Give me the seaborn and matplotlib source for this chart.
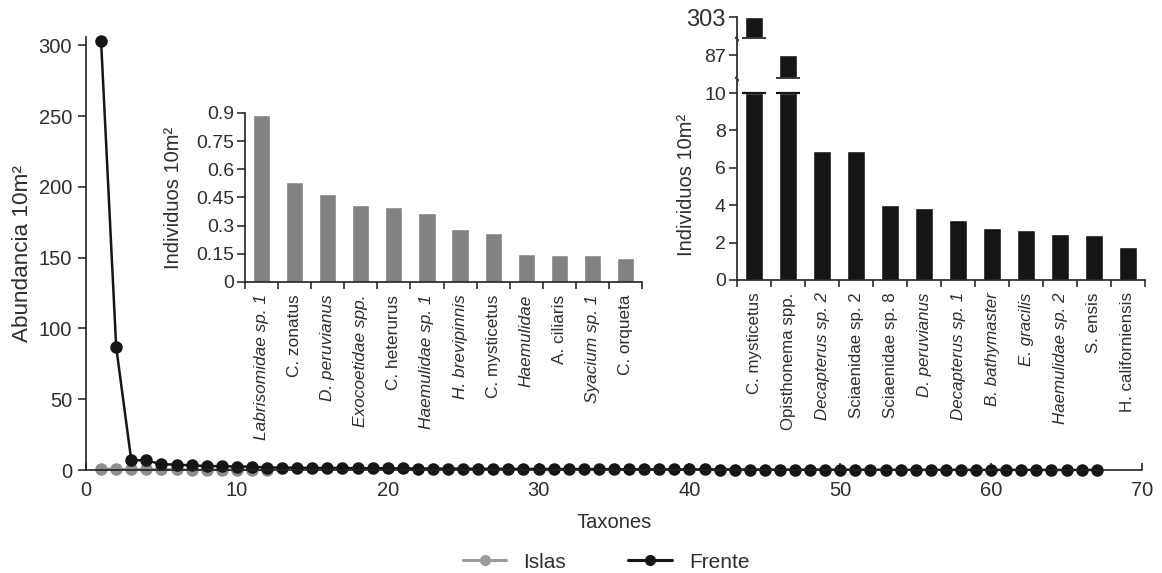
import numpy as np
import pandas as pd
import matplotlib
matplotlib.use("Agg")
import matplotlib.pyplot as plt
from matplotlib.lines import Line2D
import seaborn as sns

# ---- data -------------------------------------------------------------
islas_taxa = ["Labrisomidae sp. 1", "C. zonatus", "D. peruvianus", "Exocoetidae spp.",
              "C. heterurus", "Haemulidae sp. 1", "H. brevipinnis", "C. mysticetus",
              "Haemulidae", "A. ciliaris", "Syacium sp. 1", "C. orqueta"]
islas_values = [0.89, 0.53, 0.47, 0.41, 0.40, 0.37, 0.28, 0.26, 0.15, 0.145, 0.145, 0.13]
islas_italic = [True, False, True, True, False, True, True, False, True, False, True, False]

frente_taxa = ["C. mysticetus", "Opisthonema spp.", "Decapterus sp. 2", "Sciaenidae sp. 2",
               "Sciaenidae sp. 8", "D. peruvianus", "Decapterus sp. 1", "B. bathymaster",
               "E. gracilis", "Haemulidae sp. 2", "S. ensis", "H. californiensis"]
frente_values = [303, 87, 6.9, 6.9, 4.0, 3.85, 3.2, 2.8, 2.7, 2.45, 2.4, 1.75]
frente_italic = [False, False, True, False, False, True, True, True, True, True, False, False]

# remaining (rare) taxa of the Frente rank-abundance curve
frente_tail = [1.7, 1.6, 1.5, 1.45, 1.4, 1.3, 1.25, 1.2, 1.1, 1.05,
               1.0, 0.95, 0.9, 0.9, 0.85, 0.8, 0.75, 0.7, 0.7, 0.65,
               0.6, 0.6, 0.55, 0.5, 0.5, 0.45, 0.45, 0.4, 0.4, 0.35,
               0.35, 0.3, 0.3, 0.3, 0.25, 0.25, 0.25, 0.2, 0.2, 0.2,
               0.2, 0.15, 0.15, 0.15, 0.15, 0.1, 0.1, 0.1, 0.1, 0.1,
               0.1, 0.05, 0.05, 0.05, 0.05]

site_names = ["Islas", "Frente"]
x_ticks = [0, 10, 20, 30, 40, 50, 60, 70]
y_ticks = [0, 50, 100, 150, 200, 250, 300]
islas_yticks = [0, 0.15, 0.3, 0.45, 0.6, 0.75, 0.9]
frente_yticks_low = [0, 2, 4, 6, 8, 10]

# ---- style -------------------------------------------------------------
sns.set_theme(style="white")
plt.rcParams["font.family"] = ["Liberation Sans", "DejaVu Sans"]
TXT = "#2e2e2e"
GRAY_BAR = "#828282"
GRAY_PT = "#8e8e8e"
BLACK = "#151515"
plt.rcParams.update({
    "text.color": TXT, "axes.labelcolor": TXT,
    "xtick.color": TXT, "ytick.color": TXT,
    "axes.edgecolor": "#222222", "axes.linewidth": 1.2,
})

W, H = 1162, 573
fig = plt.figure(figsize=(W / 100, H / 100), dpi=100)


def rect(l, t, r, b):
    return [l / W, 1 - b / H, (r - l) / W, (b - t) / H]


# ---- main rank-abundance plot ----------------------------------------
islas_abund = islas_values
frente_abund = frente_values + frente_tail
df_curve = pd.concat([
    pd.DataFrame({"Taxones": np.arange(1, len(islas_abund) + 1),
                  "Abundancia": islas_abund, "Sitio": site_names[0]}),
    pd.DataFrame({"Taxones": np.arange(1, len(frente_abund) + 1),
                  "Abundancia": frente_abund, "Sitio": site_names[1]}),
], ignore_index=True)

ax = fig.add_axes(rect(86, 37, 1142, 470))
sns.lineplot(data=df_curve, x="Taxones", y="Abundancia", hue="Sitio",
             hue_order=site_names, palette=[GRAY_PT, BLACK],
             marker="o", markersize=9, markeredgewidth=0,
             linewidth=1.8, clip_on=False, ax=ax)
ax.set_xlim(0, 70)
ax.set_ylim(0, 306)
ax.set_xticks(x_ticks)
ax.set_yticks(y_ticks)
ax.tick_params(axis="y", direction="out", length=6, width=1.2, labelsize=14.5, pad=4, left=True)
ax.tick_params(axis="x", direction="in", length=5, width=1.2, labelsize=14.5, pad=8, bottom=True)
sns.despine(ax=ax)
ax.set_xlabel("Taxones", fontsize=14.5, labelpad=9)
ax.set_ylabel("Abundancia 10m²", fontsize=16.2)
ax.yaxis.set_label_coords(-0.05, 0.5)
ax.grid(False)

ax.get_legend().remove()
leg_handles = [Line2D([], [], color=c, marker="o", markersize=8, markeredgewidth=0, linewidth=2.2)
               for c in ["#9a9a9a", BLACK]]
fig.legend(leg_handles, site_names, loc="center", bbox_to_anchor=(606 / W, 1 - 562 / H),
           ncol=2, frameon=False, fontsize=15, handlelength=2.1, columnspacing=3.0,
           handletextpad=0.8)


def category_axis(a, names, italic, fs):
    a.set_xlim(-0.5, len(names) - 0.5)
    a.set_xticks(range(len(names)))
    a.set_xticklabels(names, rotation=90, fontsize=fs, va="top")
    for lab, it in zip(a.get_xticklabels(), italic):
        lab.set_style("italic" if it else "normal")
    a.set_xticks(np.arange(-0.5, len(names), 1.0), minor=True)
    a.tick_params(axis="x", which="major", length=0, pad=9)
    a.tick_params(axis="x", which="minor", direction="out", length=5, width=1.2, bottom=True)
    a.set_xlabel("")


# ---- inset: Islas -----------------------------------------------------
df_islas = pd.DataFrame({"taxon": islas_taxa, "val": islas_values})
ax1 = fig.add_axes(rect(245, 113, 642, 282))
ax1.set_facecolor("none")
sns.barplot(data=df_islas, x="taxon", y="val", order=islas_taxa, color=GRAY_BAR,
            saturation=1, width=0.52, ax=ax1)
ax1.set_ylim(0, 0.9)
ax1.set_yticks(islas_yticks)
ax1.set_yticklabels(["0", "0.15", "0.3", "0.45", "0.6", "0.75", "0.9"])
ax1.tick_params(axis="y", direction="out", length=6, width=1.2, labelsize=14, pad=2, left=True)
category_axis(ax1, islas_taxa, islas_italic, 12.4)
sns.despine(ax=ax1)
ax1.set_ylabel("Individuos 10m²", fontsize=14.5)
ax1.yaxis.set_label_coords(-0.155, 0.5)
ax1.grid(False)

# ---- inset: Frente (broken y axis) --------------------------------------
df_frente = pd.DataFrame({"taxon": frente_taxa, "val": frente_values})
low_cap = 10
mid_lim = (80, 91.6)
top_lim = (296, 303)

ax2 = fig.add_axes(rect(737, 80, 1145, 280))
ax2m = fig.add_axes(rect(737, 40, 1145, 78))
ax2t = fig.add_axes(rect(737, 17, 1145, 38))
for a in (ax2, ax2m, ax2t):
    a.set_facecolor("none")
    a.grid(False)

df_low = df_frente.assign(val=np.minimum(df_frente["val"], low_cap))
sns.barplot(data=df_low, x="taxon", y="val", order=frente_taxa, color=BLACK,
            saturation=1, width=0.53, ax=ax2)
ax2.set_ylim(0, 10.7)
ax2.set_yticks(frente_yticks_low)
ax2.tick_params(axis="y", direction="out", length=6, width=1.2, labelsize=14, pad=2, left=True)
category_axis(ax2, frente_taxa, frente_italic, 12.2)
sns.despine(ax=ax2)
ax2.set_ylabel("Individuos 10m²", fontsize=14.5)
ax2.yaxis.set_label_coords(-0.10, 0.475)

for a, lim, fs in ((ax2m, mid_lim, 14), (ax2t, top_lim, 17)):
    sub = df_frente[(df_frente["val"] > lim[0]) & (df_frente["val"] <= lim[1])]
    sns.barplot(data=sub, x="taxon", y="val", order=frente_taxa, color=BLACK,
                saturation=1, width=0.53, ax=a)
    a.set_xlim(-0.5, len(frente_taxa) - 0.5)
    a.set_ylim(*lim)
    a.set_yticks(sub["val"].tolist())
    a.set_yticklabels([f"{v:g}" for v in sub["val"]])
    a.tick_params(axis="y", direction="out", length=6, width=1.2, labelsize=fs, pad=2, left=True)
    a.set_xticks([])
    a.set_xlabel("")
    a.set_ylabel("")
    for s in ("top", "right", "bottom"):
        a.spines[s].set_visible(False)
    # cut marks under the visible bar segments
    pos = [frente_taxa.index(t) for t in sub["taxon"]]
    a.hlines([lim[0]] * len(pos), [p - 0.36 for p in pos], [p + 0.36 for p in pos],
             color="#3a3a3a", lw=1.4, clip_on=False)

# cut marks on the lower segment where bars exceed the cap
over = [i for i, v in enumerate(frente_values) if v > low_cap]
ax2.hlines([low_cap] * len(over), [p - 0.36 for p in over], [p + 0.36 for p in over],
           color=BLACK, lw=1.6)

# wavy break symbols on the y axis
for yc in (39, 79):
    xs = np.array([737, 735.5, 738.5, 737]) / W
    ys = 1 - np.array([yc - 3, yc - 1, yc + 1, yc + 3]) / H
    fig.add_artist(Line2D(xs, ys, color="#333333", lw=1.1))

fig.savefig("out.png", dpi=100)
